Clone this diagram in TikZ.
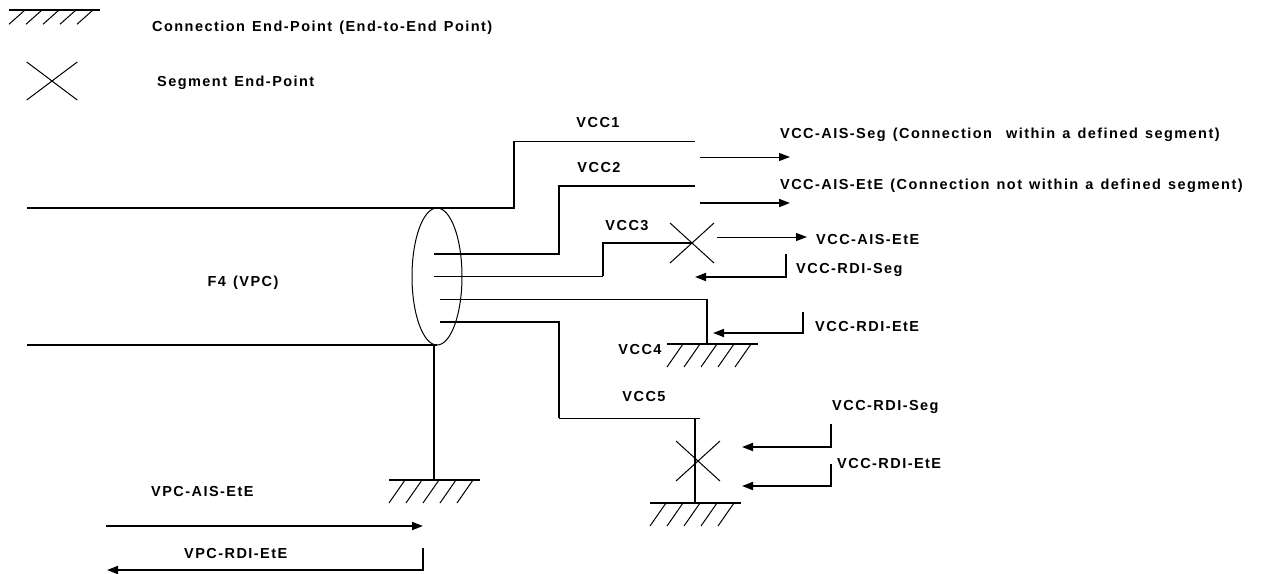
\documentclass[tikz,border=0pt]{standalone}
\usepackage{fontspec}
\setmainfont{Liberation Sans}[LetterSpace=10, WordSpace=1.3]
\usetikzlibrary{arrows.meta,positioning}

\tikzset{
    wire/.style={line width=1.8pt},
    fine/.style={line width=1pt},
    lbl/.style={font=\bfseries\fontsize{14.5}{17}\selectfont, inner sep=0pt},
    hatch/.pic={
        \draw[wire] (0,0) -- (91,0);
        \foreach \k in {0,...,4}
            \draw[fine] (17*\k,23) -- (17*\k+16,0);
    },
    segx/.pic={
        \draw[fine] (-22,-20) -- (22,20);
        \draw[fine] (22,-20) -- (-22,20);
    }
}

\begin{document}
\begin{tikzpicture}[x=1pt, y=-1pt, >={Triangle[length=11pt,width=8pt]}]
    \useasboundingbox (0,0) rectangle (1269,573);

    % Legend
    \pic[yscale=0.62] at (9,10) {hatch};
    \node[lbl, anchor=west] (legcep) at (152,28) {Connection End-Point (End-to-End Point)};
    \pic[xscale=1.15, yscale=0.95] at (52,81) {segx};
    \node[lbl, anchor=west] (legsep) at (157,83) {Segment End-Point};

    % F4 (VPC) bundle
    \coordinate (vpctop) at (437,208);
    \coordinate (vpcbot) at (437,345);
    \coordinate (vpcin1) at (27,208);
    \coordinate (vpcin2) at (27,345);
    \draw[wire] (vpcin1) -- (vpctop);
    \draw[wire] (vpcin2) -- (vpcbot);
    \draw[fine] (437,276.5) ellipse [x radius=25, y radius=68.5];
    \node[lbl] (f4) at (243,283) {F4 (VPC)};
    \coordinate (vpcend) at (434,480);
    \draw[wire] (434,345) -- (vpcend);
    \pic at (389,480) {hatch};

    % VCC1 .. VCC5
    \coordinate (vcc1end) at (695,141);
    \draw[wire] (vpctop) -- (514,208) -- (514,141);
    \draw[fine] (514,141) -- (vcc1end);
    \node[lbl] (vcc1) at (598,123) {VCC1};

    \coordinate (vcc2end) at (695,186);
    \draw[wire] (434,254) -| (559,186) -- (vcc2end);
    \node[lbl] (vcc2) at (599,168) {VCC2};

    \coordinate (vcc3end) at (692,243);
    \draw[fine] (434,276) -- (603,276);
    \draw[wire] (603,276) |- (vcc3end);
    \pic at (vcc3end) {segx};
    \node[lbl] (vcc3) at (627,226) {VCC3};

    \coordinate (vcc4end) at (707,344);
    \draw[fine] (440,299) -- (707,299);
    \draw[wire] (707,299) -- (vcc4end);
    \pic at (667,344) {hatch};
    \node[lbl] (vcc4) at (640,350) {VCC4};

    \coordinate (vcc5end) at (695,503);
    \draw[wire] (440,322) -| (559,418);
    \draw[fine] (559,418) -- (700,418);
    \draw[wire] (695,418) -- (vcc5end);
    \pic at (698,461) {segx};
    \pic at (650,503) {hatch};
    \node[lbl] (vcc5) at (644,397) {VCC5};

    % OAM flows
    \draw[fine, ->] (700,157) -- (790,157);
    \node[lbl, anchor=west] (aisseg) at (780,135) {VCC-AIS-Seg (Connection\ \ within a defined segment)};
    \draw[wire, ->] (700,203) -- (790,203);
    \node[lbl, anchor=west] (aisete) at (780,186) {VCC-AIS-EtE (Connection not within a defined segment)};

    \draw[fine, ->] (717,237) -- (807,237);
    \node[lbl, anchor=west] (aisete3) at (816,240) {VCC-AIS-EtE};
    \draw[wire, ->] (786,254) |- (695,277);
    \node[lbl, anchor=west] (rdiseg3) at (796,270) {VCC-RDI-Seg};

    \draw[wire, ->] (803,312) |- (713,333);
    \node[lbl, anchor=west] (rdiete4) at (815,327) {VCC-RDI-EtE};

    \node[lbl, anchor=west] (rdiseg5) at (832,407) {VCC-RDI-Seg};
    \draw[wire, ->] (831,424) |- (742,447);
    \node[lbl, anchor=west] (rdiete5) at (837,464) {VCC-RDI-EtE};
    \draw[wire, ->] (831,464) |- (742,486);

    \node[lbl, anchor=west] (vpcais) at (151,492) {VPC-AIS-EtE};
    \draw[wire, ->] (106,526) -- (423,526);
    \node[lbl, anchor=west] (vpcrdi) at (184,554) {VPC-RDI-EtE};
    \draw[wire, ->] (423,548) |- (107,570);
\end{tikzpicture}
\end{document}
